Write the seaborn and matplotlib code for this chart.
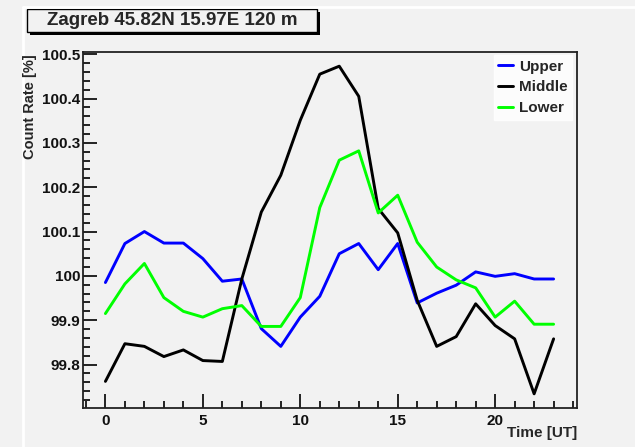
import matplotlib
matplotlib.use("Agg")
import matplotlib.pyplot as plt
from matplotlib.patches import Rectangle
from matplotlib.lines import Line2D
from matplotlib.ticker import MultipleLocator
import numpy as np
import pandas as pd
import seaborn as sns

# Hourly relative count rates, Zagreb muon telescope
hours = list(range(24))
upper = [99.985, 100.073, 100.100, 100.074, 100.074, 100.039, 99.988, 99.993,
         99.881, 99.841, 99.907, 99.954, 100.050, 100.073, 100.014, 100.073,
         99.939, 99.961, 99.979, 100.009, 99.999, 100.005, 99.993, 99.993]
middle = [99.762, 99.847, 99.841, 99.818, 99.833, 99.809, 99.807, 99.993,
          100.144, 100.227, 100.351, 100.455, 100.473, 100.405, 100.152, 100.097,
          99.945, 99.841, 99.863, 99.937, 99.888, 99.858, 99.734, 99.858]
lower = [99.915, 99.982, 100.028, 99.951, 99.920, 99.907, 99.926, 99.933,
         99.886, 99.886, 99.951, 100.154, 100.261, 100.282, 100.142, 100.182,
         100.076, 100.020, 99.991, 99.973, 99.907, 99.943, 99.891, 99.891]
series_names = ["Upper", "Middle", "Lower"]
series_colors = ["#0000ff", "#000000", "#00ff00"]
title_text = "Zagreb 45.82N 15.97E 120 m"

df = pd.DataFrame({
    "hour": hours * 3,
    "rate": upper + middle + lower,
    "layer": sum([[n] * len(hours) for n in series_names], []),
})

bg = "#f2f2f2"
sns.set_style("ticks")
plt.rcParams["font.family"] = ["Liberation Sans", "DejaVu Sans"]
plt.rcParams["font.weight"] = "bold"

fig = plt.figure(figsize=(6.35, 4.47), dpi=100, facecolor=bg)
W, H = 635, 447
ax = fig.add_axes([83 / W, 1 - 408 / H, (577 - 83) / W, (408 - 52) / H])
ax.set_facecolor(bg)

sns.lineplot(data=df, x="hour", y="rate", hue="layer", hue_order=series_names,
             palette=dict(zip(series_names, series_colors)), linewidth=2.1,
             ax=ax, legend=False)

ax.set_xlim(-1.15, 24.2)
ax.set_ylim(99.702, 100.505)
ax.xaxis.set_major_locator(MultipleLocator(5))
ax.xaxis.set_minor_locator(MultipleLocator(1))
ax.yaxis.set_major_locator(MultipleLocator(0.1))
ax.yaxis.set_minor_locator(MultipleLocator(0.02))
ax.yaxis.set_major_formatter(plt.FuncFormatter(lambda v, p: f"{v:.1f}".rstrip("0").rstrip(".")))

ax.tick_params(which="both", direction="in", color="black", width=1.2,
               top=False, right=False, labelsize=11, labelcolor="#111111")
ax.tick_params(which="major", length=10)
ax.tick_params(which="minor", length=5)
ax.tick_params(axis="y", pad=2)
ax.tick_params(axis="x", pad=4)
for lab in ax.get_xticklabels() + ax.get_yticklabels():
    lab.set_fontweight("bold")
for sp in ax.spines.values():
    sp.set_visible(True)
    sp.set_color("#222222")
    sp.set_linewidth(1.3)

ax.set_xlabel("")
ax.set_ylabel("")
fig.text(577 / W, 1 - 433 / H, "Time [UT]", ha="right", va="center",
         fontsize=11, fontweight="bold")
fig.text(30 / W, 1 - 54 / H, "Count Rate [%]", rotation=90, ha="center",
         va="top", fontsize=10.5, fontweight="bold")

# Legend
handles = [Line2D([0], [0], color=c, lw=2.1) for c in series_colors]
leg = ax.legend(handles, series_names, loc="upper right",
                bbox_to_anchor=(572 / W, 1 - 55 / H), bbox_transform=fig.transFigure,
                frameon=True, fancybox=False, handlelength=1.0, handletextpad=0.35,
                labelspacing=0.45, borderpad=0.3, borderaxespad=0,
                prop={"size": 11, "weight": "bold"})
leg.get_frame().set_facecolor("white")
leg.get_frame().set_edgecolor("white")

# Title box with drop shadow
x0, y0, x1, y1 = 27, 9, 317, 32
fig.patches.append(Rectangle((((x0 + 3) / W), 1 - (y1 + 3) / H), (x1 - x0) / W, (y1 - y0) / H,
                             transform=fig.transFigure, facecolor="black", edgecolor="none"))
fig.patches.append(Rectangle((x0 / W, 1 - y1 / H), (x1 - x0) / W, (y1 - y0) / H,
                             transform=fig.transFigure, facecolor=bg, edgecolor="black", lw=1.0))
fig.text((x0 + x1) / 2 / W, 1 - (y0 + y1) / 2 / H, title_text, ha="center", va="center",
         fontsize=13.5, fontweight="bold")

# Canvas border lines
fig.lines.append(Line2D([23 / W, 23 / W], [0, 1 - 7 / H], transform=fig.transFigure,
                        color="white", lw=2))
fig.lines.append(Line2D([23 / W, 1], [1 - 7 / H, 1 - 7 / H], transform=fig.transFigure,
                        color="white", lw=2))

fig.savefig("out.png", dpi=100, facecolor=bg)
